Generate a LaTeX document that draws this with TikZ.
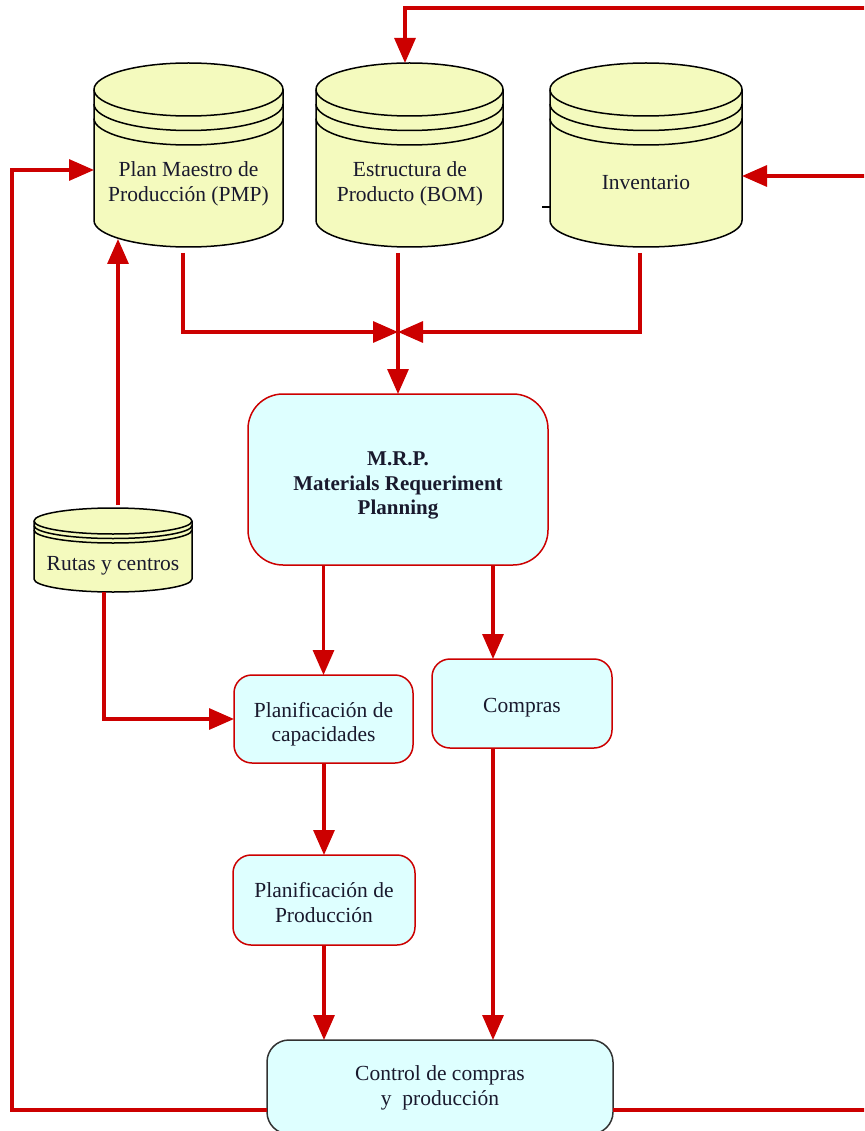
\documentclass[tikz,border=0pt]{standalone}
\usepackage{fontspec}
\setmainfont{Liberation Serif}
\usetikzlibrary{arrows.meta,calc}
\definecolor{cred}{RGB}{204,0,0}
\definecolor{cyel}{RGB}{244,250,190}
\definecolor{ccyan}{RGB}{222,255,255}
\definecolor{ctxt}{RGB}{25,25,45}
\definecolor{cgray}{RGB}{50,50,50}
\tikzset{
 conn/.style={draw=cred, line width=3.2pt, -{Triangle[length=25pt,width=21pt]}},
 plainconn/.style={draw=cred, line width=3.2pt},
 cylfill/.style={fill=cyel, draw=black, line width=1.5pt},
 cylline/.style={draw=black, line width=1.5pt},
 cylnode/.style={draw=none, inner sep=0pt, outer sep=0pt, shape=rectangle},
 lbl/.style={align=center, text=ctxt, font=\fontsize{21.5}{24.5}\selectfont, inner sep=0pt},
 box/.style={draw=cred, fill=ccyan, line width=1.5pt, rounded corners=18pt, inner sep=0pt, outer sep=0pt},
}
% #1 cx, #2 top, #3 width, #4 height, #5 ry, #6 band gap
\newcommand{\dbcyl}[6]{%
 \path[cylfill] ({#1-#3/2},{-(#2+#5)}) -- ({#1-#3/2},{-(#2+#4-#5)})
   arc[start angle=180,end angle=360,x radius=#3/2*1pt,y radius=#5*1pt]
   -- ({#1+#3/2},{-(#2+#5)})
   arc[start angle=0,end angle=180,x radius=#3/2*1pt,y radius=#5*1pt] -- cycle;
 \draw[cylline] ({#1-#3/2},{-(#2+#5)}) arc[start angle=180,end angle=360,x radius=#3/2*1pt,y radius=#5*1pt];
 \draw[cylline] ({#1-#3/2},{-(#2+#5+#6)}) arc[start angle=180,end angle=360,x radius=#3/2*1pt,y radius=#5*1pt];
 \draw[cylline] ({#1-#3/2},{-(#2+#5+2*#6)}) arc[start angle=180,end angle=360,x radius=#3/2*1pt,y radius=#5*1pt];
}
\begin{document}
\begin{tikzpicture}[x=1pt,y=1pt]
\useasboundingbox (0,0) rectangle (864,-1131);
\clip (0,0) rectangle (864,-1131);

% cylinders
\dbcyl{188.5}{63}{189}{184}{26.5}{14.5}
\dbcyl{409.5}{63}{187}{184}{26.5}{14.5}
\dbcyl{646}{63}{192}{184}{26.5}{14.5}
\dbcyl{113}{508}{158}{84}{13}{4.5}
\draw[cylline] (542,-207) -- (551,-207);

\node[cylnode, minimum width=189pt, minimum height=184pt] (pmp) at (188.5,-155) {};
\node[cylnode, minimum width=187pt, minimum height=184pt] (bom) at (409.5,-155) {};
\node[cylnode, minimum width=192pt, minimum height=184pt] (inv) at (646,-155) {};
\node[cylnode, minimum width=158pt, minimum height=84pt] (rutas) at (113,-550) {};

\node[lbl] (pmpt) at (188.5,-184) {Plan Maestro de\\Producción (PMP)};
\node[lbl] (bomt) at (410,-184) {Estructura de\\Producto (BOM)};
\node[lbl] (invt) at (646,-182) {Inventario};
\node[lbl] (rutast) at (113,-566) {Rutas y centros};

% boxes
\node[box, rounded corners=35pt, minimum width=300pt, minimum height=171pt] (mrp) at (398,-479.5) {};
\node[box, minimum width=179pt, minimum height=88pt] (pcap) at (323.5,-719) {};
\node[box, minimum width=180pt, minimum height=89pt] (compras) at (522,-703.5) {};
\node[box, minimum width=182pt, minimum height=90pt] (pprod) at (324,-900) {};
\node[box, draw=cgray, rounded corners=22pt, minimum width=346pt, minimum height=94pt] (ctrl) at (440,-1087) {};

\node[lbl, font=\fontsize{21}{24.5}\selectfont] (mrpt) at ($(mrp)+(0,-6)$)
 {\textbf{M.R.P.}\\\textbf{Materials Requeriment}\\\textbf{Planning}};
\node[lbl] (pcapt) at ($(pcap)+(0,-5)$) {Planificación de\\capacidades};
\node[lbl] (comprast) at ($(compras)+(0,-4)$) {Compras};
\node[lbl] (pprodt) at ($(pprod)+(0,-2.5)$) {Planificación de\\Producción};
\node[lbl] (ctrlt) at ($(ctrl)+(0,-1)$) {Control de compras\\y~~producción};

% free ends
\coordinate (topR) at (866,-8);
\coordinate (invR) at (866,-176);
\coordinate (ctrlR) at (866,-1110);
\coordinate (lx) at (12,-600);
\coordinate (merge) at (398,-332);

% connectors
\draw[conn] (topR) -| ($(bom.north)+(-4.5,0)$);
\draw[conn] (invR) -- (inv.east |- invR);
\draw[conn] ($(ctrl.west)+(0,-23)$) -| (lx) |- ($(pmp.west)+(0,-15)$);
\draw[plainconn] ($(ctrl.east)+(0,-23)$) -- (ctrlR);
\draw[conn] ($(pmp.south)+(-5.5,-6)$) |- (merge);
\draw[conn] ($(inv.south)+(-6,-6)$) |- (merge);
\draw[conn] ($(bom.south)+(-11.5,-6)$) -- (mrp.north);
\draw[conn] ($(rutas.north)+(5,3)$) -- ($(pmp.south)+(-70.5,8)$);
\draw[conn] ($(rutas.south)+(-9,0)$) |- (pcap.west);
\draw[conn] (pcap.north |- mrp.south) -- (pcap.north);
\draw[conn] ($(mrp.south)+(95,0)$) -- ($(compras.north)+(-29,0)$);
\draw[conn] (pprod.north |- pcap.south) -- (pprod.north);
\draw[conn] (pprod.south) -- (pprod.south |- ctrl.north);
\draw[conn] ($(compras.south)+(-29,0)$) -- ($(ctrl.north)+(53,0)$);
\end{tikzpicture}
\end{document}
